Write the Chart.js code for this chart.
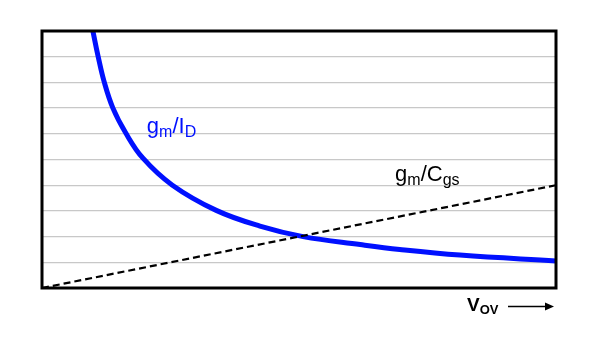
<!DOCTYPE html>
<html>
<head>
<meta charset="utf-8">
<script src="https://cdn.jsdelivr.net/npm/chart.js@4/dist/chart.umd.min.js"></script>
<style>
  html, body { margin: 0; padding: 0; background: #fff; }
  #wrap { width: 616px; height: 360px; }
</style>
</head>
<body>
<div id="wrap"><canvas id="chart" width="616" height="360"></canvas></div>
<script>
'use strict';

// gm/ID curve (x = Vov, y = arbitrary units)
var gmIdX = [0.99, 1.09, 1.21, 1.38, 1.63, 1.96, 2.53, 3.39, 4.24, 5.08, 6.19, 6.96, 8.13, 10];
var gmIdY = [10.0, 9.03, 8.02, 7.00, 6.03, 5.06, 4.01, 3.02, 2.41, 2.00, 1.69, 1.50, 1.28, 1.05];

// gm/Cgs straight line
var gmCgsX = [0, 10];
var gmCgsY = [0, 4.0];

var yTicks = [0, 1, 2, 3, 4, 5, 6, 7, 8, 9, 10];

var toPoints = function(xs, ys) {
    var pts = [];
    for (var i = 0; i < xs.length; i++) {
        pts.push({ x: xs[i], y: ys[i] });
    }
    return pts;
};

var FONT = '"Liberation Sans", Arial, sans-serif';

// draws "main" + subscript, returns end x
var drawSub = function(ctx, x, y, main, sub, size, subSize, weight, drop) {
    ctx.font = weight + ' ' + size + 'px ' + FONT;
    ctx.fillText(main, x, y);
    x += ctx.measureText(main).width;
    ctx.font = weight + ' ' + subSize + 'px ' + FONT;
    ctx.fillText(sub, x, y + drop);
    return x + ctx.measureText(sub).width;
};

var decor = {
    id: 'decor',
    afterDraw: function(chart) {
        var ctx = chart.ctx;
        var a = chart.chartArea;
        var sx = chart.scales.x, sy = chart.scales.y;
        ctx.save();

        // frame
        ctx.strokeStyle = '#000';
        ctx.lineWidth = 3;
        ctx.strokeRect(a.left, a.top, a.right - a.left, a.bottom - a.top);

        ctx.textBaseline = 'alphabetic';

        // gm/ID label
        ctx.fillStyle = 'rgb(0, 16, 255)';
        var x = sx.getPixelForValue(2.04);
        var y = sy.getPixelForValue(6.05);
        x = drawSub(ctx, x, y, 'g', 'm', 22, 16, 'normal', 4);
        x = drawSub(ctx, x, y, '/I', 'D', 22, 16, 'normal', 4);

        // gm/Cgs label
        ctx.fillStyle = '#000';
        x = sx.getPixelForValue(6.87);
        y = sy.getPixelForValue(4.17);
        x = drawSub(ctx, x, y, 'g', 'm', 22, 16, 'normal', 4);
        x = drawSub(ctx, x, y, '/C', 'gs', 22, 16, 'normal', 4);

        // Vov axis label + arrow
        x = drawSub(ctx, 467, 311, 'V', 'OV', 19, 13, 'bold', 3);
        ctx.strokeStyle = '#000';
        ctx.lineWidth = 1.5;
        ctx.beginPath();
        ctx.moveTo(508, 306.5);
        ctx.lineTo(547, 306.5);
        ctx.stroke();
        ctx.beginPath();
        ctx.moveTo(554, 306.5);
        ctx.lineTo(545, 302.5);
        ctx.lineTo(545, 310.5);
        ctx.closePath();
        ctx.fill();

        ctx.restore();
    }
};

var ctx = document.getElementById('chart').getContext('2d');

var chart = new Chart(ctx, {
    type: 'line',
    data: {
        datasets: [
            {
                label: 'gm/Cgs',
                data: toPoints(gmCgsX, gmCgsY),
                borderColor: '#000',
                borderWidth: 2.2,
                borderDash: [7, 4],
                pointRadius: 0,
                fill: false
            },
            {
                label: 'gm/ID',
                data: toPoints(gmIdX, gmIdY),
                borderColor: 'rgb(0, 16, 255)',
                borderWidth: 5,
                pointRadius: 0,
                tension: 0.4,
                fill: false
            }
        ]
    },
    options: {
        responsive: false,
        animation: false,
        layout: { padding: { left: 42, top: 31, right: 60, bottom: 72 } },
        plugins: {
            legend: { display: false },
            tooltip: { enabled: false }
        },
        scales: {
            x: {
                type: 'linear',
                min: 0,
                max: 10,
                ticks: { display: false },
                grid: { display: false, drawTicks: false },
                border: { display: false }
            },
            y: {
                type: 'linear',
                min: 0,
                max: 10,
                afterBuildTicks: function(axis) {
                    axis.ticks = yTicks.map(function(v) { return { value: v }; });
                },
                ticks: { display: false },
                grid: { color: '#c8c8c8', lineWidth: 1.3, drawTicks: false },
                border: { display: false }
            }
        }
    },
    plugins: [decor]
});
</script>
</body>
</html>
